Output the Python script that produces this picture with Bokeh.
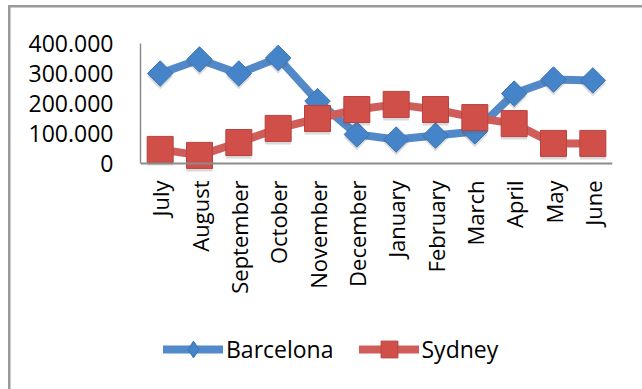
import math

from bokeh.embed import file_html
from bokeh.models import (FixedTicker, Legend, LegendItem, Range1d,
                          ColumnDataSource)
from bokeh.plotting import figure
from bokeh.resources import INLINE
from bokeh.transform import dodge

# Monthly visitor figures for the two cities
months = ["July", "August", "September", "October", "November", "December",
          "January", "February", "March", "April", "May", "June"]
barcelona = [300000, 347000, 300000, 352000, 208000, 97000,
             80000, 93000, 107000, 233000, 280000, 277000]
sydney = [47000, 27000, 70000, 117000, 150000, 180000,
          197000, 180000, 153000, 133000, 67000, 67000]
series_names = ["Barcelona", "Sydney"]
y_ticks = [0, 100000, 200000, 300000, 400000]
y_tick_labels = ["0", "100.000", "200.000", "300.000", "400.000"]

FONT = "Open Sans"
BLUE_LINE = "#5289c8"
BLUE_FILL = "#4684c9"
BLUE_EDGE = "#3d74b3"
RED_LINE = "#cf5e5a"
RED_FILL = "#d04f49"
RED_EDGE = "#b8433e"
SHADOW = "#555555"
AXIS_GREY = "#8c8c8c"
FRAME_GREY = "#9a9a9a"

# canvas geometry (px)
W, H = 642, 389
PLOT_TOP, AXIS_TOP, AXIS_ZERO = 37, 43, 163
Y_MAX = y_ticks[-1]
px_per_unit = (AXIS_ZERO - AXIS_TOP) / Y_MAX
y_hi = Y_MAX + (AXIS_TOP - PLOT_TOP) / px_per_unit
y_lo = -(H - AXIS_ZERO) / px_per_unit
shadow_shift = -3 / px_per_unit   # drop shadow 3 px below each marker

source = ColumnDataSource(data=dict(month=months, barcelona=barcelona, sydney=sydney))

# thin grey frame around the chart area, painted behind a transparent canvas
frame_css = (
    f"linear-gradient({FRAME_GREY},{FRAME_GREY}) 7.5px 5px / 2.5px 100% no-repeat, "
    f"linear-gradient({FRAME_GREY},{FRAME_GREY}) 7.5px 5px / 100% 2.5px no-repeat, "
    "white"
)

p = figure(width=W, height=H, x_range=months, y_range=Range1d(y_lo, y_hi),
           output_backend="svg", toolbar_location=None, title=None,
           min_border_left=140, min_border_right=30,
           min_border_top=PLOT_TOP, min_border_bottom=0,
           styles={"background": frame_css})
p.x_range.range_padding = 0
p.outline_line_color = None
p.xgrid.visible = False
p.ygrid.visible = False
p.background_fill_color = "white"
p.border_fill_alpha = 0

# value axis
p.yaxis.ticker = FixedTicker(ticks=y_ticks)
p.yaxis.major_label_overrides = dict(zip(y_ticks, y_tick_labels))
p.yaxis.bounds = (0, Y_MAX)
p.yaxis.axis_line_color = AXIS_GREY
p.yaxis.axis_line_width = 1.5
p.yaxis.major_tick_in = 0
p.yaxis.major_tick_out = 0
p.yaxis.minor_tick_line_color = None
p.yaxis.major_label_standoff = 27
p.yaxis.major_label_text_font = FONT
p.yaxis.major_label_text_font_size = "23px"
p.yaxis.major_label_text_color = "black"

# category axis sits on the zero line
p.xaxis.fixed_location = 0
p.xaxis.axis_line_color = AXIS_GREY
p.xaxis.axis_line_width = 2
p.xaxis.major_tick_in = 0
p.xaxis.major_tick_out = 0
p.xaxis.major_label_orientation = math.pi / 2
p.xaxis.major_label_standoff = 17
p.xaxis.major_label_text_font = FONT
p.xaxis.major_label_text_font_size = "22px"
p.xaxis.major_label_text_color = "black"

# Barcelona series
bl = p.line(x="month", y="barcelona", source=source, line_width=8,
            line_color=BLUE_LINE, line_join="round", line_cap="round")
p.scatter(x="month", y=dodge("barcelona", shadow_shift), source=source,
          marker="square", size=18, angle=math.pi / 4,
          fill_color=SHADOW, fill_alpha=0.22, line_color=None)
bm = p.scatter(x="month", y="barcelona", source=source, marker="square",
               size=18, angle=math.pi / 4, fill_color=BLUE_FILL,
               line_color=BLUE_EDGE, line_width=1)
# legend swatch: a slim diamond, not drawn on the plot itself
b_key = p.scatter(x="month", y="barcelona", source=source, marker="diamond",
                  size=18, fill_color=BLUE_FILL, line_color=BLUE_EDGE,
                  line_width=1, visible=False)

# Sydney series
rl = p.line(x="month", y="sydney", source=source, line_width=8,
            line_color=RED_LINE, line_join="round", line_cap="round")
p.scatter(x="month", y=dodge("sydney", shadow_shift), source=source,
          marker="square", size=26, fill_color=SHADOW, fill_alpha=0.22,
          line_color=None)
rm = p.scatter(x="month", y="sydney", source=source, marker="square",
               size=26, fill_color=RED_FILL, line_color=RED_EDGE, line_width=1)

legend = Legend(items=[LegendItem(label=series_names[0], renderers=[bl, b_key]),
                       LegendItem(label=series_names[1], renderers=[rl, rm])],
                location=(23, 19), orientation="horizontal",
                glyph_width=60, glyph_height=42, label_standoff=3, spacing=25,
                padding=0, margin=0, border_line_color=None,
                background_fill_alpha=0, inactive_fill_alpha=0,
                label_text_font=FONT, label_text_font_size="23px",
                label_text_color="black")
p.add_layout(legend)

open("out.html", "w").write(file_html(p, INLINE))
